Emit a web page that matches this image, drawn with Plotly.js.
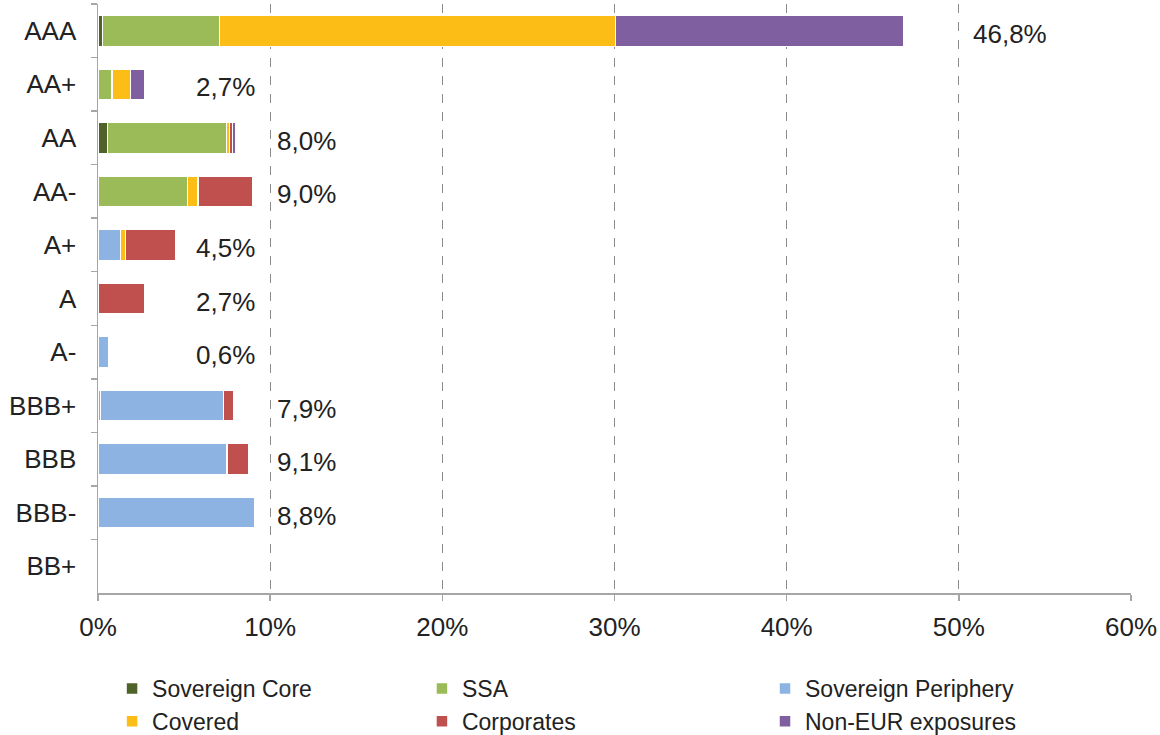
<!DOCTYPE html>
<html>
<head>
<meta charset="utf-8">
<script src="https://cdn.plot.ly/plotly-3.0.1.min.js"></script>
<style>html,body{margin:0;padding:0;background:#fff}#chart{width:1160px;height:735px}</style>
</head>
<body>
<div id="chart"></div>
<script>
const categories = ["AAA","AA+","AA","AA-","A+","A","A-","BBB+","BBB","BBB-","BB+"];
const sovereignCore = [0.25, 0, 0.55, 0, 0, 0, 0, 0, 0, 0, 0];
const ssa = [6.8, 0.8, 6.9, 5.2, 0, 0, 0, 0.15, 0, 0, 0];
const sovereignPeriphery = [0, 0, 0, 0, 1.3, 0, 0.6, 7.15, 7.5, 9.1, 0];
const covered = [23.0, 1.1, 0.2, 0.6, 0.3, 0, 0, 0, 0, 0, 0];
const corporates = [0, 0, 0.15, 3.2, 2.9, 2.7, 0, 0.6, 1.25, 0, 0];
const nonEur = [16.75, 0.8, 0.2, 0, 0, 0, 0, 0, 0, 0, 0];
const totalLabels = ["46,8%","2,7%","8,0%","9,0%","4,5%","2,7%","0,6%","7,9%","9,1%","8,8%",""];
const xTicks = [0,10,20,30,40,50,60];
const xTickLabels = ["0%","10%","20%","30%","40%","50%","60%"];

const seriesDefs = [
  {name:"Sovereign Core", values:sovereignCore, color:"#4f6228", legend:"legend"},
  {name:"SSA", values:ssa, color:"#9bbb59", legend:"legend2"},
  {name:"Sovereign Periphery", values:sovereignPeriphery, color:"#8db3e2", legend:"legend3"},
  {name:"Covered", values:covered, color:"#fbbd16", legend:"legend"},
  {name:"Corporates", values:corporates, color:"#c0504d", legend:"legend2"},
  {name:"Non-EUR exposures", values:nonEur, color:"#7f5f9f", legend:"legend3"}
];

const FONT = "Liberation Sans, Arial, sans-serif";
const TXT = "#222222";

const traces = seriesDefs.map(s => ({
  type:"bar", orientation:"h", name:s.name,
  y:categories, x:s.values.map(v => v === 0 ? null : v),
  width:0.58,
  marker:{color:s.color, line:{color:"#ffffff", width:1.5}},
  legend:s.legend, hoverinfo:"skip"
}));

const totals = categories.map((c,i) => seriesDefs.reduce((a,s)=>a+s.values[i],0));
const annotations = categories.map((c,i) => {
  const t = totals[i];
  const xc = t < 5 ? 7.4 : (t < 10 ? 12.1 : t + 6.2);
  return {x:xc, y:c, xref:"x", yref:"y", text:totalLabels[i], showarrow:false,
          xanchor:"center", yanchor:"middle", yshift:-3,
          font:{family:FONT, size:26, color:TXT}};
});

const legendBase = {orientation:"v", yanchor:"top", y:-0.1256, xanchor:"left",
  font:{family:FONT, size:23, color:TXT}, bgcolor:"rgba(0,0,0,0)",
  itemwidth:30, tracegroupgap:0, traceorder:"normal"};

const layout = {
  width:1160, height:735,
  margin:{l:98, r:29, t:4, b:142, autoexpand:false},
  paper_bgcolor:"#ffffff", plot_bgcolor:"#ffffff",
  barmode:"stack", bargap:0.42,
  font:{family:FONT, color:TXT},
  xaxis:{range:[0,60], tickvals:xTicks, ticktext:xTickLabels,
    showgrid:true, gridcolor:"#8c8c8c", griddash:"dash", gridwidth:1.3,
    zeroline:false, showline:true, linecolor:"#a6a6a6", linewidth:1.5,
    ticks:"outside", ticklen:6, tickcolor:"#a6a6a6", tickwidth:1.5,
    ticklabelstandoff:4, automargin:false,
    tickfont:{family:FONT, size:26, color:TXT}, fixedrange:true},
  yaxis:{type:"category", categoryorder:"array", categoryarray:categories,
    autorange:"reversed", showgrid:false, zeroline:false,
    showline:true, linecolor:"#a6a6a6", linewidth:1.5,
    ticks:"outside", tickson:"boundaries", ticklen:6, tickcolor:"#a6a6a6", tickwidth:1.5,
    ticklabelstandoff:15, automargin:false,
    tickfont:{family:FONT, size:26, color:TXT}, fixedrange:true},
  showlegend:true,
  legend:Object.assign({}, legendBase, {x:0.0136}),
  legend2:Object.assign({}, legendBase, {x:0.3136}),
  legend3:Object.assign({}, legendBase, {x:0.6457}),
  annotations:annotations
};

Plotly.newPlot("chart", traces, layout, {displayModeBar:false, staticPlot:true});
</script>
</body>
</html>
